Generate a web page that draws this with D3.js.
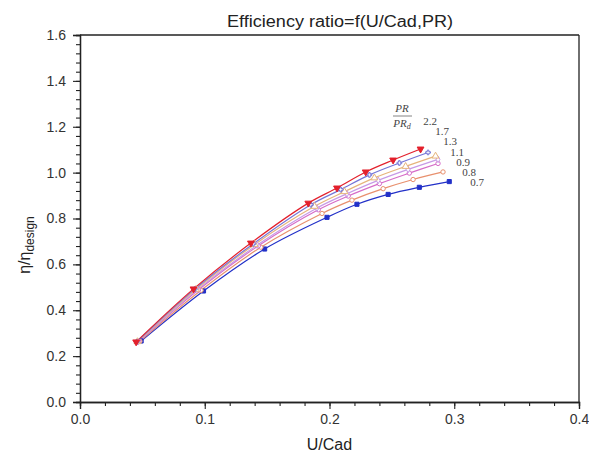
<!DOCTYPE html>
<html>
<head>
<meta charset="utf-8">
<script src="https://cdn.jsdelivr.net/npm/d3@7"></script>
<style>
  body { margin: 0; background: #fff; }
  svg { display: block; }
</style>
</head>
<body>
<svg id="chart" width="589" height="459"></svg>
<script>
// PR/PRd values, one curve each
let pr_labels = ['2.2', '1.7', '1.3', '1.1', '0.9', '0.8', '0.7'];

// U/Cad and efficiency ratio
let ucad_22 = [0.045, 0.091, 0.137, 0.183, 0.206, 0.229, 0.251, 0.273];
let eff_22  = [0.262, 0.493, 0.693, 0.867, 0.933, 1.003, 1.055, 1.103];
let ucad_17 = [0.0455, 0.092, 0.139, 0.185, 0.209, 0.232, 0.256, 0.279];
let eff_17  = [0.262, 0.492, 0.690, 0.860, 0.926, 0.990, 1.042, 1.088];
let ucad_13 = [0.046, 0.093, 0.140, 0.188, 0.212, 0.236, 0.261, 0.285];
let eff_13  = [0.263, 0.491, 0.687, 0.853, 0.917, 0.977, 1.027, 1.072];
let ucad_11 = [0.0465, 0.094, 0.142, 0.190, 0.214, 0.239, 0.263, 0.287];
let eff_11  = [0.263, 0.490, 0.684, 0.846, 0.908, 0.966, 1.014, 1.058];
let ucad_09 = [0.047, 0.095, 0.143, 0.191, 0.215, 0.240, 0.264, 0.287];
let eff_09  = [0.264, 0.489, 0.681, 0.838, 0.898, 0.952, 0.998, 1.040];
let ucad_08 = [0.048, 0.097, 0.145, 0.194, 0.218, 0.243, 0.267, 0.291];
let eff_08  = [0.265, 0.487, 0.675, 0.822, 0.880, 0.930, 0.970, 1.003];
let ucad_07 = [0.049, 0.099, 0.148, 0.198, 0.222, 0.247, 0.272, 0.296];
let eff_07  = [0.266, 0.484, 0.667, 0.805, 0.862, 0.905, 0.936, 0.961];

let x_ticks = [0, 0.1, 0.2, 0.3, 0.4];
let y_ticks = [0, 0.2, 0.4, 0.6, 0.8, 1.0, 1.2, 1.4, 1.6];

// styling per curve (same order as pr_labels)
let line_colors = ['#e3202c', '#7474d6', '#e6b47c', '#c79ae6', '#d66cc8', '#e8906e', '#2230c8'];
let marker_types = ['tri_down', 'cross', 'tri_up', 'diamond', 'circle', 'circle', 'square'];
let marker_filled = [true, false, false, false, false, false, true];
// label anchors (pixel centres), staggered down the right side
let label_pos = [[430, 121], [442, 131], [450, 141], [457, 152], [463, 162], [469, 172], [477, 182]];

let margin = {left: 80, right: 10, top: 35, bottom: 57};
let width = 589, height = 459;

let svg = d3.select('#chart');

let x = d3.scaleLinear()
  .domain([0, 0.4])
  .range([margin.left, width - margin.right]);

let y = d3.scaleLinear()
  .domain([0, 1.6])
  .range([height - margin.bottom, margin.top]);

let series = [
  [ucad_22, eff_22], [ucad_17, eff_17], [ucad_13, eff_13], [ucad_11, eff_11],
  [ucad_09, eff_09], [ucad_08, eff_08], [ucad_07, eff_07]
].map((s, i) => ({
  label: pr_labels[i],
  color: line_colors[i],
  marker: marker_types[i],
  filled: marker_filled[i],
  points: s[0].map((u, j) => ({u: u, e: s[1][j]}))
}));

// frame (top + right)
svg.append('line')
  .attr('x1', x(0)).attr('x2', x(0.4))
  .attr('y1', y(1.6)).attr('y2', y(1.6))
  .attr('stroke', '#222').attr('stroke-width', 1.3);
svg.append('line')
  .attr('x1', x(0.4)).attr('x2', x(0.4))
  .attr('y1', y(1.6)).attr('y2', y(0))
  .attr('stroke', '#222').attr('stroke-width', 1.3);

// minor ticks
let x_minor = d3.axisBottom(x)
  .tickValues(d3.range(0, 21).map(i => i * 0.02))
  .tickSize(4).tickFormat('');
let y_minor = d3.axisLeft(y)
  .tickValues(d3.range(0, 41).map(i => i * 0.04))
  .tickSize(4).tickFormat('');

svg.append('g').attr('transform', `translate(0, ${y(0)})`).call(x_minor);
svg.append('g').attr('transform', `translate(${x(0)}, 0)`).call(y_minor);

svg.append('g')
  .attr('transform', `translate(0, ${y(0)})`)
  .call(d3.axisBottom(x).tickValues(x_ticks).tickSize(7).tickPadding(5).tickFormat(d3.format('.1f')));
svg.append('g')
  .attr('transform', `translate(${x(0)}, 0)`)
  .call(d3.axisLeft(y).tickValues(y_ticks).tickSize(7).tickPadding(7).tickFormat(d3.format('.1f')));

svg.selectAll('.domain').attr('stroke', '#222').attr('stroke-width', 1.3);
svg.selectAll('.tick line').attr('stroke', '#222').attr('stroke-width', 1.1);
svg.selectAll('.tick text')
  .style('font-family', 'Liberation Sans, Arial, sans-serif')
  .style('font-size', '14px')
  .style('fill', '#333');

// curves
let line = d3.line()
  .x(d => x(d.u))
  .y(d => y(d.e))
  .curve(d3.curveCatmullRom);

let plot = svg.append('g');
series.slice().reverse().forEach(s => {
  plot.append('path')
    .datum(s.points)
    .attr('d', line)
    .attr('fill', 'none')
    .attr('stroke', s.color)
    .attr('stroke-width', 1.2);
});

function marker_path(type) {
  if (type === 'tri_down' || type === 'tri_up') return d3.symbol(d3.symbolTriangle, 20)();
  if (type === 'square') return d3.symbol(d3.symbolSquare, 17)();
  if (type === 'diamond') return d3.symbol(d3.symbolDiamond, 13)();
  if (type === 'cross') return d3.symbol(d3.symbolCross, 12)();
  return d3.symbol(d3.symbolCircle, 15)();
}

series.slice().reverse().forEach(s => {
  plot.selectAll(null)
    .data(s.points)
    .enter()
    .append('path')
    .attr('d', marker_path(s.marker))
    .attr('transform', d => `translate(${x(d.u)}, ${y(d.e)})` + (s.marker === 'tri_down' ? ' rotate(180)' : ''))
    .attr('fill', s.filled ? s.color : '#fff')
    .attr('stroke', s.color)
    .attr('stroke-width', 1);
});

// curve labels
let serif = 'Liberation Serif, Times New Roman, serif';
svg.selectAll('.pr-label')
  .data(series)
  .enter()
  .append('text')
  .attr('class', 'pr-label')
  .attr('x', (d, i) => label_pos[i][0])
  .attr('y', (d, i) => label_pos[i][1] + 3.5)
  .style('font-family', serif)
  .style('font-size', '11px')
  .style('fill', '#444')
  .style('text-anchor', 'middle')
  .text(d => d.label);

// PR/PRd fraction
svg.append('text')
  .attr('x', 402).attr('y', 112)
  .style('font-family', serif).style('font-style', 'italic')
  .style('font-size', '11px').style('fill', '#444')
  .style('text-anchor', 'middle')
  .text('PR');
svg.append('line')
  .attr('x1', 393).attr('x2', 412)
  .attr('y1', 116).attr('y2', 116)
  .attr('stroke', '#666').attr('stroke-width', 0.8);
let prd = svg.append('text')
  .attr('x', 402).attr('y', 127)
  .style('font-family', serif).style('font-style', 'italic')
  .style('font-size', '11px').style('fill', '#444')
  .style('text-anchor', 'middle');
prd.append('tspan').text('PR');
prd.append('tspan').attr('dy', 2).style('font-size', '8px').text('d');

// title
svg.append('text')
  .attr('x', 340).attr('y', 27)
  .style('font-family', 'Liberation Sans, Arial, sans-serif')
  .style('font-size', '16px')
  .style('fill', '#222')
  .style('text-anchor', 'middle')
  .attr('textLength', 226)
  .attr('lengthAdjust', 'spacingAndGlyphs')
  .text('Efficiency ratio=f(U/Cad,PR)');

// x label
svg.append('text')
  .attr('x', (x(0) + x(0.4)) / 2).attr('y', 450)
  .style('font-family', 'Liberation Sans, Arial, sans-serif')
  .style('font-size', '16px')
  .style('fill', '#222')
  .style('text-anchor', 'middle')
  .text('U/Cad');

// y label
let ylab = svg.append('text')
  .attr('transform', 'translate(30, 245) rotate(-90)')
  .style('font-family', 'Liberation Sans, Arial, sans-serif')
  .style('font-size', '16px')
  .style('fill', '#222')
  .style('text-anchor', 'middle');
ylab.append('tspan').text('η/η');
ylab.append('tspan').attr('dy', 4).style('font-size', '12px').text('design');
</script>
</body>
</html>
